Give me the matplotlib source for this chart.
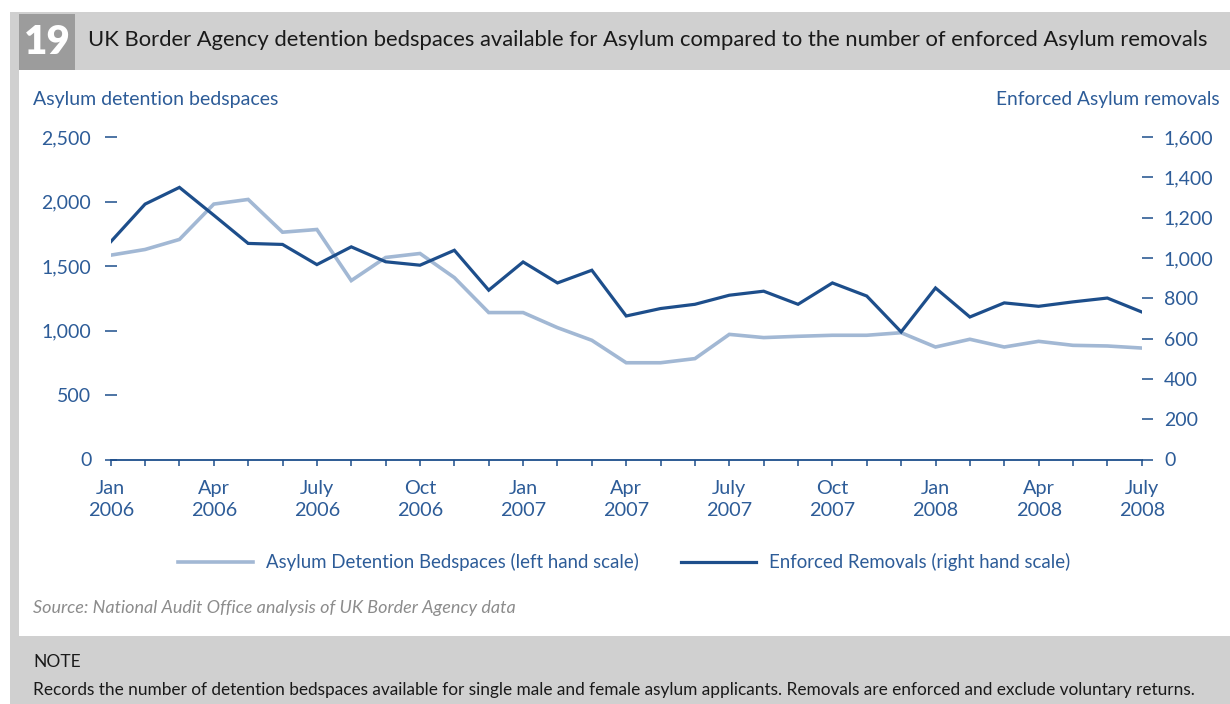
import matplotlib
matplotlib.use('Agg')
import matplotlib.pyplot as plt
import matplotlib.patches as mpatches
import numpy as np

# monthly values, Jan 2006 - July 2008
months = ['Jan 06', 'Feb 06', 'Mar 06', 'Apr 06', 'May 06', 'Jun 06', 'Jul 06', 'Aug 06',
          'Sep 06', 'Oct 06', 'Nov 06', 'Dec 06', 'Jan 07', 'Feb 07', 'Mar 07', 'Apr 07',
          'May 07', 'Jun 07', 'Jul 07', 'Aug 07', 'Sep 07', 'Oct 07', 'Nov 07', 'Dec 07',
          'Jan 08', 'Feb 08', 'Mar 08', 'Apr 08', 'May 08', 'Jun 08', 'Jul 08']
bedspaces = [1584, 1628, 1706, 1980, 2016, 1762, 1783, 1387, 1566, 1597, 1410, 1139,
             1139, 1022, 924, 750, 750, 782, 970, 945, 955, 963, 963, 983,
             872, 932, 872, 916, 885, 880, 864]
removals = [1080, 1267, 1350, 1212, 1072, 1067, 967, 1055, 981, 964, 1038, 840,
            980, 876, 939, 712, 749, 770, 815, 835, 770, 876, 811, 633,
            851, 707, 777, 760, 782, 801, 732]
tick_pos = [0, 3, 6, 9, 12, 15, 18, 21, 24, 27, 30]
tick_labels = ['Jan\n2006', 'Apr\n2006', 'July\n2006', 'Oct\n2006', 'Jan\n2007', 'Apr\n2007',
               'July\n2007', 'Oct\n2007', 'Jan\n2008', 'Apr\n2008', 'July\n2008']
left_ticks = [0, 500, 1000, 1500, 2000, 2500]
right_ticks = [0, 200, 400, 600, 800, 1000, 1200, 1400, 1600]

FONT = 'Lato'
BLUE_TXT = '#2d5c98'
DARK = '#1d4e8b'
LIGHT = '#a2b8d4'
GREY = '#d0d0d0'

W, H = 1230, 704
fig = plt.figure(figsize=(W / 100, H / 100), dpi=100)
plt.rcParams['font.family'] = FONT


def fx(x):
    return x / W


def fy(y):
    return 1 - y / H


# background panels
bg = fig.add_axes([0, 0, 1, 1])
bg.set_xlim(0, W)
bg.set_ylim(H, 0)
bg.axis('off')
bg.add_patch(mpatches.Rectangle((10, 12), W - 10, H - 12, color=GREY, lw=0))
bg.add_patch(mpatches.Rectangle((19, 70), W - 19, 566, color='white', lw=0))
bg.add_patch(mpatches.Rectangle((19, 14), 56, 56, color='#9c9c9c', lw=0))
bg.text(47, 43, '19', color='white', fontsize=29, fontweight='heavy', ha='center', va='center',
        family=FONT)
bg.text(88, 40, 'UK Border Agency detention bedspaces available for Asylum compared to the number of enforced Asylum removals',
        fontsize=15.8, color='#1a1a1a', ha='left', va='center')
bg.text(33, 99, 'Asylum detention bedspaces', fontsize=14, color=BLUE_TXT, ha='left', va='center')
bg.text(1220, 99, 'Enforced Asylum removals', fontsize=13.8, color=BLUE_TXT, ha='right', va='center')
bg.text(33, 608, 'Source: National Audit Office analysis of UK Border Agency data', fontsize=13,
        color='#8c8c8c', style='italic', ha='left', va='center')
bg.text(33, 662, 'NOTE', fontsize=12.5, color='#1a1a1a', ha='left', va='center')
bg.text(33, 690, 'Records the number of detention bedspaces available for single male and female asylum applicants. '
        'Removals are enforced and exclude voluntary returns.',
        fontsize=12.4, color='#1a1a1a', ha='left', va='center')

# main chart
x = np.arange(len(months))
ax = fig.add_axes([fx(110.7), fy(459.5), fx(1141.7) - fx(110.7), fy(137) - fy(459.5)])
ax.patch.set_alpha(0)
l1, = ax.plot(x, bedspaces, color=LIGHT, lw=2.6, solid_joinstyle='miter', zorder=2,
              label='Asylum Detention Bedspaces (left hand scale)')
ax.set_xlim(0, len(months) - 1)
ax.set_ylim(0, 2500)
ax.set_yticks(left_ticks)
ax.set_yticklabels([f'{v:,}' for v in left_ticks])
ax.set_xticks(x, minor=False)
ax.set_xticklabels(['' for _ in x])
for s in ['top', 'right', 'left']:
    ax.spines[s].set_visible(False)
ax.spines['bottom'].set_color(DARK)
ax.spines['bottom'].set_linewidth(1.3)
ax.tick_params(axis='y', colors=DARK, labelcolor=BLUE_TXT, length=8, width=1.1,
               direction='inout', pad=10, labelsize=14)
ax.tick_params(axis='x', colors=DARK, length=4, width=1.1, direction='out')
for p, lab in zip(tick_pos, tick_labels):
    ax.text(p, -0.065, lab, transform=ax.get_xaxis_transform(), ha='center', va='top',
            fontsize=14.3, color=BLUE_TXT, linespacing=1.35)

ax2 = ax.twinx()
l2, = ax2.plot(x, removals, color=DARK, lw=2.3, solid_joinstyle='miter', zorder=3,
               label='Enforced Removals (right hand scale)')
ax2.set_ylim(0, 1600)
ax2.set_yticks(right_ticks)
ax2.set_yticklabels([f'{v:,}' for v in right_ticks])
for s in ['top', 'right', 'left', 'bottom']:
    ax2.spines[s].set_visible(False)
ax2.tick_params(axis='y', colors=DARK, labelcolor=BLUE_TXT, length=8, width=1.1,
                direction='out', pad=8, labelsize=14)

leg = fig.legend(handles=[l1, l2], loc='center', bbox_to_anchor=(fx(624), fy(562)), ncol=2,
                 frameon=False, fontsize=13.4, handlelength=4.0, handletextpad=0.7,
                 columnspacing=2.3)
for t in leg.get_texts():
    t.set_color(BLUE_TXT)

fig.savefig('out.png', dpi=100)
